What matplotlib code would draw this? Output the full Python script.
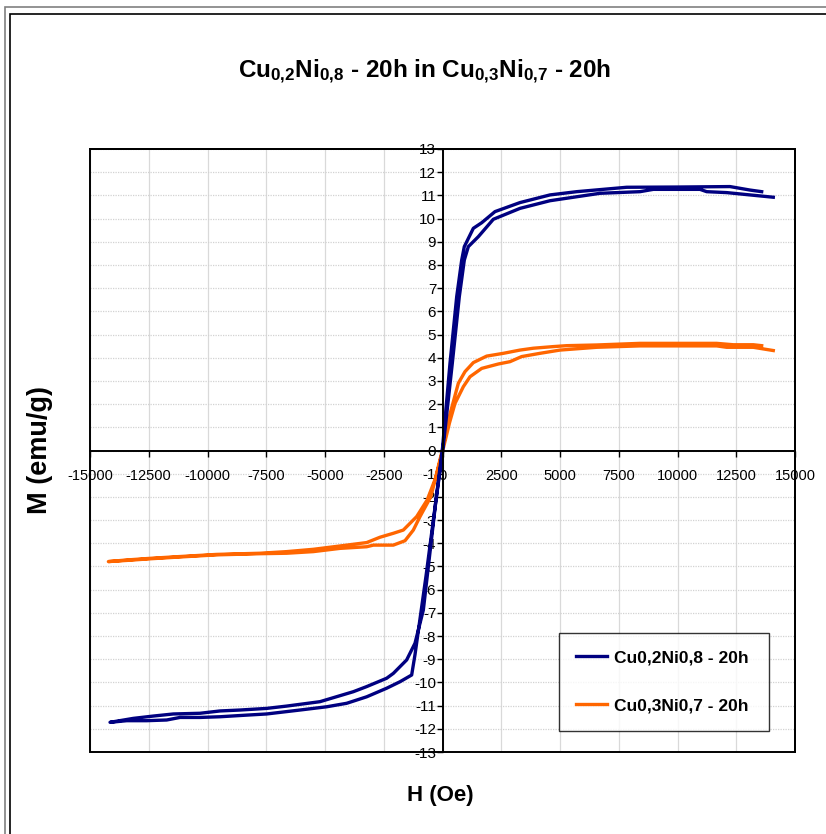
import numpy as np
import matplotlib
matplotlib.use("Agg")
import matplotlib.pyplot as plt
from matplotlib.patches import Rectangle

# hysteresis loops, field H in Oe, magnetisation M in emu/g
# Cu0,2Ni0,8 - 20h : decreasing field branch, then increasing field branch
h_cu2_down = [13582, 13084, 12233, 10000, 7838, 5710, 4574, 3298, 2234, 1667, 1312,
              928, 817, 604, 319, 0, -277, -603, -816, -1170, -1525, -2092, -2376,
              -3227, -3795, -5213, -6630, -7482, -8616, -9467, -10318, -11454,
              -12305, -13156, -14148]
m_cu2_down = [11.16, 11.23, 11.38, 11.36, 11.35, 11.16, 11.02, 10.69, 10.30, 9.82, 9.58,
              8.79, 8.21, 6.63, 3.76, 0.1, -2.13, -5.01, -6.88, -8.31, -9.03, -9.61, -9.82,
              -10.18, -10.40, -10.83, -11.02, -11.12, -11.19, -11.23, -11.33, -11.36,
              -11.45, -11.55, -11.72]
h_cu2_up = [-14148, -13437, -12588, -11737, -11170, -10318, -9467, -8333, -7482, -6063,
            -4929, -4078, -3227, -2376, -1808, -1312, -1170, -700, -277, 0, 417, 715,
            928, 1099, 1525, 2163, 3298, 4574, 6702, 8404, 8971, 10957, 11241, 12092,
            14076]
m_cu2_up = [-11.72, -11.65, -11.65, -11.62, -11.51, -11.51, -11.48, -11.41, -11.36, -11.19,
            -11.05, -10.90, -10.62, -10.25, -9.97, -9.68, -8.80, -5.40, -2.13, -0.1, 3.76,
            6.63, 8.21, 8.79, 9.22, 9.97, 10.44, 10.77, 11.09, 11.16, 11.26, 11.26, 11.16,
            11.12, 10.92]

# Cu0,3Ni0,7 - 20h
h_cu3_down = [13582, 13226, 12375, 11667, 8404, 6561, 5284, 4716, 3865, 3298, 2589, 1879,
              1312, 957, 674, 300, 0, -300, -650, -1099, -1667, -2092, -2660, -3227,
              -4078, -5496, -6630, -7765, -9609, -11312, -12446, -13437, -14218]
m_cu3_down = [4.52, 4.56, 4.56, 4.62, 4.62, 4.55, 4.52, 4.48, 4.41, 4.33, 4.19, 4.07,
              3.79, 3.40, 2.90, 1.50, 0.05, -1.20, -2.13, -2.85, -3.43, -3.57, -3.74, -3.97,
              -4.08, -4.26, -4.36, -4.43, -4.48, -4.58, -4.65, -4.72, -4.79]
h_cu3_up = [-14218, -13437, -12446, -11312, -9609, -7765, -6630, -5496, -4361, -3227,
            -2943, -2092, -1596, -1241, -957, -500, 0, 300, 532, 886, 1170, 1667, 2376,
            2872, 3369, 4149, 5000, 6561, 8404, 9821, 11667, 12092, 13226, 14076]
m_cu3_up = [-4.79, -4.74, -4.67, -4.60, -4.50, -4.45, -4.43, -4.36, -4.22, -4.15,
            -4.08, -4.08, -3.89, -3.43, -2.85, -2.00, -0.05, 1.20, 2.03, 2.75, 3.18, 3.54,
            3.73, 3.83, 4.05, 4.19, 4.33, 4.45, 4.51, 4.51, 4.51, 4.45, 4.45, 4.31]

series_names = ["Cu0,2Ni0,8 - 20h", "Cu0,3Ni0,7 - 20h"]
x_ticks = np.arange(-15000, 15001, 2500)
y_ticks = np.arange(-13, 14, 1)

sans = ["Liberation Sans", "DejaVu Sans"]
plt.rcParams["font.family"] = sans
plt.rcParams["mathtext.fontset"] = "custom"
plt.rcParams["mathtext.rm"] = "Liberation Sans:bold"
plt.rcParams["mathtext.bf"] = "Liberation Sans:bold"

W, H = 826, 834
fig = plt.figure(figsize=(W / 100, H / 100), dpi=100)

# chart frame
fig.patches.append(Rectangle((5 / W, -0.1), 1.2, (H - 7) / H + 0.1, transform=fig.transFigure,
                             fill=False, ec="#808080", lw=1.2, zorder=0))
fig.patches.append(Rectangle((10 / W, -0.1), 1.2, (H - 14) / H + 0.1, transform=fig.transFigure,
                             fill=False, ec="black", lw=1.2, zorder=0))

ax = fig.add_axes([90 / W, (H - 752) / H, 705 / W, 603 / H])
ax.set_xlim(-15000, 15000)
ax.set_ylim(-13, 13)

ax.plot(h_cu2_down + h_cu2_up, m_cu2_down + m_cu2_up, color="#000080", lw=2.4,
        label=series_names[0], zorder=4)
ax.plot(h_cu3_down + h_cu3_up, m_cu3_down + m_cu3_up, color="#FF6600", lw=2.4,
        label=series_names[1], zorder=3)

# axes crossing at zero, with a box around the plot area
ax.spines["left"].set_position(("data", 0))
ax.spines["bottom"].set_position(("data", 0))
for s in ["left", "bottom"]:
    ax.spines[s].set_linewidth(1.4)
    ax.spines[s].set_zorder(5)
for s in ["top", "right"]:
    ax.spines[s].set_linewidth(1.4)
ax.add_patch(Rectangle((0, 0), 1, 1, transform=ax.transAxes, fill=False, ec="black",
                       lw=1.4, zorder=5, clip_on=False))

ax.set_xticks(x_ticks)
ax.set_yticks(y_ticks)
ax.set_xticklabels([str(v) for v in x_ticks])
ax.set_yticklabels([str(v) for v in y_ticks])
ax.tick_params(axis="x", direction="out", length=4, width=1, pad=9, labelsize=10.5)
ax.tick_params(axis="y", direction="out", length=4, width=1, pad=0.5, labelsize=11)

for v in x_ticks:
    ax.axvline(v, color="#d9d9d9", lw=0.9, zorder=1)
for v in y_ticks:
    ax.axhline(v, color="#d2d2d2", lw=0.9, ls=(0, (1, 1)), zorder=1)

leg = ax.legend(loc="lower left", bbox_to_anchor=(0.665, 0.035, 0.298, 0.172), mode="expand",
                frameon=True, fancybox=False, edgecolor="black", handlelength=1.8,
                handletextpad=0.35, labelspacing=1.9, borderpad=1.0, borderaxespad=0,
                prop={"family": sans, "weight": "bold", "size": 12.5})
leg.get_frame().set_linewidth(1.0)
leg.set_zorder(6)

fig.text(425 / W, 1 - 72 / H,
         r"$\mathbf{Cu_{0{,}2}Ni_{0{,}8}}$ - 20h in $\mathbf{Cu_{0{,}3}Ni_{0{,}7}}$ - 20h",
         ha="center", va="center", fontsize=17.5, fontweight="bold")
fig.text(440 / W, 1 - 795 / H, "H (Oe)", ha="center", va="center", fontsize=16,
         fontweight="bold")
fig.text(40 / W, 1 - 450 / H, "M (emu/g)", ha="center", va="center", rotation=90,
         fontsize=19.5, fontweight="bold")

fig.savefig("out.png", dpi=100)
